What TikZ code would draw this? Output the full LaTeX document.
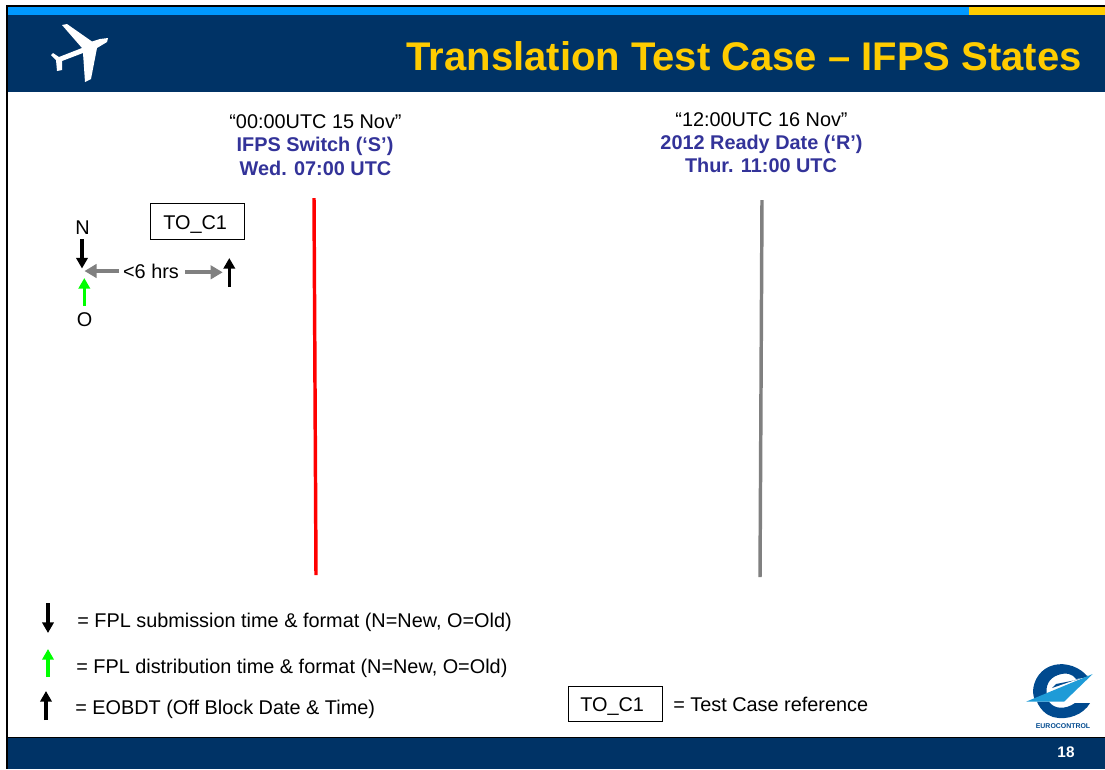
\documentclass[tikz,border=0pt]{standalone}
\usepackage{fontspec}
\setmainfont{Liberation Sans}
\usetikzlibrary{arrows.meta}
\definecolor{navy}{HTML}{003366}
\definecolor{skyb}{HTML}{0099FF}
\definecolor{gold}{HTML}{FFCC00}
\definecolor{dateblue}{HTML}{333399}
\definecolor{eublue}{HTML}{004A8F}
\definecolor{eusky}{HTML}{1E9BD7}
\definecolor{greyline}{HTML}{808080}
\definecolor{brightgreen}{HTML}{00FF00}
\tikzset{
  txt/.style={font=\fontsize{14.9}{16.5}\selectfont, text=black, inner sep=0pt, anchor=base},
  bluetxt/.style={txt, text=dateblue, font=\bfseries\fontsize{14.9}{16.5}\selectfont},
  legend/.style={txt, anchor=base west},
  refbox/.style={draw=black, line width=0.6pt, minimum width=70.5pt, minimum height=26.5pt, inner sep=0pt},
  blackarrow/.style={draw=black, line width=2.6pt, -{Triangle[length=8pt,width=8.5pt]}},
  greenarrow/.style={draw=brightgreen, line width=2.5pt, -{Triangle[length=8pt,width=8.5pt]}},
  greyarrow/.style={draw=greyline, line width=2.8pt, -{Triangle[length=9pt,width=10pt]}},
  plane/.style={fill=white, draw=none}
}
\begin{document}
\begin{tikzpicture}[x=0.75pt,y=-0.75pt]
\useasboundingbox (0,0) rectangle (1105,769);
\fill[white] (0,0) rectangle (1105,769);
% frame
\fill[navy] (7,7) rectangle (1105,92);
\fill[skyb] (7,7) rectangle (969,15);
\fill[gold] (969,7) rectangle (1105,15);
\fill[navy] (8,738) rectangle (1105,769);
\draw[black,line width=0.6pt] (8,737.5) -- (1105,737.5);
\fill[black] (6,5) rectangle (1105,7);
\fill[black] (6,5) rectangle (8,769);
% plane
\fill[plane] (62,25) -- (67,24) -- (92,41.5) -- (100,39) -- (108,38) -- (107,42) -- (97,48)
  -- (91,79) -- (85,82) -- (83,53) -- (62,61) -- (62,70) -- (57,71) -- (56,60)
  -- (51,55) -- (53,53) -- (59,57) -- (82,48) -- cycle;
% title
\node[anchor=base east, inner sep=0pt, text=gold, font=\bfseries\fontsize{30}{34}\selectfont] (title) at (1082,70) {Translation Test Case – IFPS States};
% headers
\node[txt] (h1a) at (315.5,128) {“00:00UTC 15 Nov”};
\node[bluetxt] (h1b) at (315,151.5) {IFPS Switch (‘S’)};
\node[bluetxt] (h1c) at (315.5,175) {Wed. 07:00 UTC};
\node[txt] (h2a) at (761.5,126) {“12:00UTC 16 Nov”};
\node[bluetxt] (h2b) at (761.5,149.5) {2012 Ready Date (‘R’)};
\node[bluetxt] (h2c) at (761,172.5) {Thur. 11:00 UTC};
% timelines
\coordinate (r1) at (314,198); \coordinate (r2) at (316,575);
\coordinate (g1) at (762,200); \coordinate (g2) at (760,577);
\draw[red, line width=2.6pt] (r1) -- (r2);
\draw[greyline, line width=2.6pt] (g1) -- (g2);
% test case
\node[refbox] (tc) at (197.5,221.5) {};
\node[legend] (tct) at (163,229) {TO\_C1};
\node[txt] (n) at (82.5,234.3) {N};
\node[txt] (o) at (84.5,326.7) {O};
\node[txt] (hrs) at (151,278) {<6 hrs};
\coordinate (nA) at (82,239); \coordinate (nB) at (82,268.5);
\coordinate (oA) at (84.3,306); \coordinate (oB) at (84.3,278);
\coordinate (eA) at (229.3,287); \coordinate (eB) at (229.3,258);
\coordinate (pA) at (119,271); \coordinate (pB) at (84.5,271);
\coordinate (qA) at (185,272.3); \coordinate (qB) at (222.7,272.3);
\draw[blackarrow] (nA) -- (nB);
\draw[greenarrow] (oA) -- (oB);
\draw[blackarrow] (eA) -- (eB);
\draw[greyarrow] (pA) -- (pB);
\draw[greyarrow] (qA) -- (qB);
% legend
\coordinate (l1a) at (48,603); \coordinate (l1b) at (48,633);
\coordinate (l2a) at (48,677); \coordinate (l2b) at (48,649);
\coordinate (l3a) at (46,720); \coordinate (l3b) at (46,691);
\draw[blackarrow] (l1a) -- (l1b);
\draw[greenarrow] (l2a) -- (l2b);
\draw[blackarrow] (l3a) -- (l3b);
\node[legend] (t1) at (77,627) {= FPL submission time \& format (N=New, O=Old)};
\node[legend] (t2) at (76,673) {= FPL distribution time \& format (N=New, O=Old)};
\node[legend] (t3) at (75,714) {= EOBDT (Off Block Date \& Time)};
\node[refbox] (tc2) at (615,704) {};
\node[legend] (tc2t) at (580,711.7) {TO\_C1};
\node[legend] (t4) at (673,711.7) {= Test Case reference};
% logo
\fill[eublue] (1088,677) .. controls (1080,667) and (1066,662) .. (1054,665)
  .. controls (1041,668) and (1033,680) .. (1033,692)
  .. controls (1033,695) and (1034,698) .. (1035,700)
  -- (1047,695) .. controls (1045,686) and (1049,678) .. (1058,675)
  .. controls (1066,672) and (1073,674) .. (1076,679) -- cycle;
\fill[eublue] (1052,688) -- (1088,675.5) -- (1076,680) -- (1056,684) -- cycle;
\fill[eublue] (1049,701.7) .. controls (1054,709) and (1065,710) .. (1075,703)
  -- (1090,703) .. controls (1084,714) and (1068,721) .. (1053,717)
  .. controls (1046,715) and (1040,709) .. (1037,701.7) -- cycle;
\fill[eusky] (1026,701.7) -- (1092.7,674) -- (1064,701.7) -- cycle;
\node[inner sep=0pt, text=eublue, font=\bfseries\fontsize{5.2}{6}\selectfont] (eu) at (1063,726) {EUROCONTROL};
\node[inner sep=0pt, text=white, font=\bfseries\fontsize{11.5}{12}\selectfont] (pg) at (1066,752.5) {18};
\end{tikzpicture}
\end{document}
